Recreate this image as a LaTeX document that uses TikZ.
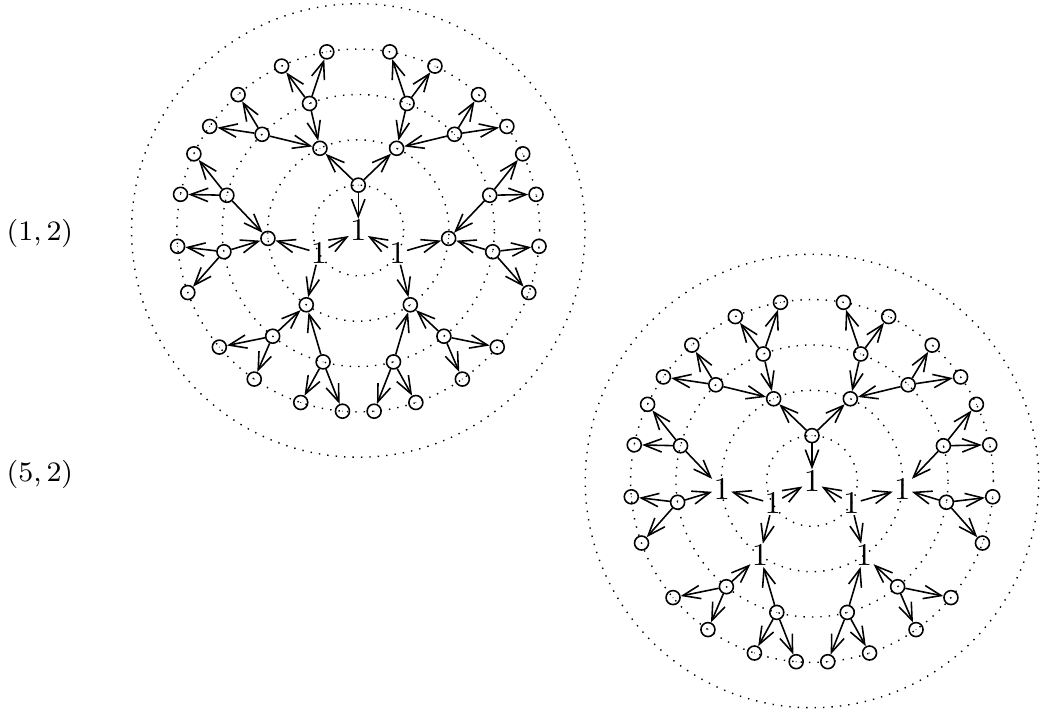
\documentclass[tikz,border=0pt]{standalone}
\usepackage{amsmath}
\usepackage{amssymb}
\usepackage{tikz}
\usetikzlibrary{arrows.meta,calc}

\begin{document}
\begin{tikzpicture}[
        dot/.style={circle,draw,inner sep=0pt,minimum size=1.4mm,line width=0.45pt,
            path picture={\fill (path picture bounding box.center) circle (0.15pt);}},
        one/.style={inner sep=0.2pt,font=\small},
        arc/.style={line width=0.45pt,-{Straight Barb[length=5pt,width=3.8pt]}}]
    \useasboundingbox (0,0) rectangle (10.41,7.13);

    \node[anchor=base west,inner sep=0pt,font=\fontsize{8.5}{10}\selectfont] (lbla) at (0.06,4.723) {\((1,2)\)};
    \node[anchor=base west,inner sep=0pt,font=\fontsize{8.5}{10}\selectfont] (lblb) at (0.06,2.313) {\((5,2)\)};

    % \q/\qc: look of the lower nodes on the second ring
    \foreach \p/\x/\y/\q/\qc in {a/3.583/4.825/dot/{}, b/8.12/2.32/one/{\(1\)}}{
        \coordinate (\p) at (\x,\y);
        \foreach \k in {1,...,5}{
            \draw[dotted] (\p) circle (\k*0.4535);
        }
        \node[one] (\p0) at (\p) {\(1\)};

        \foreach \b/\t/\s/\c/\u/\uc in {1/90/dot/{}/dot/{}, 2/210/one/{\(1\)}/\q/{\qc}, 3/330/one/{\(1\)}/\q/{\qc}}{
            \node[\s] (\p\b) at ($(\p)+(\t:0.4535)$) {\c};
            \draw[arc] (\p\b) -- (\p0);
            \foreach \m/\g in {m/-1,p/1}{
                \node[\u] (\p\b\m) at ($(\p)+(\t+\g*25:0.907)$) {\uc};
                \node[dot] (\p\b\m-i) at ($(\p)+(\t+\g*21:1.3605)$) {};
                \node[dot] (\p\b\m-o) at ($(\p)+(\t+\g*45:1.3605)$) {};
                \node[dot] (\p\b\m-ii) at ($(\p)+(\t+\g*10:1.814)$) {};
                \node[dot] (\p\b\m-io) at ($(\p)+(\t+\g*25:1.814)$) {};
                \node[dot] (\p\b\m-oi) at ($(\p)+(\t+\g*41.5:1.814)$) {};
                \node[dot] (\p\b\m-oo) at ($(\p)+(\t+\g*55:1.814)$) {};

                \draw[arc] (\p\b) -- (\p\b\m);
                \draw[arc] (\p\b\m-i) -- (\p\b\m);
                \draw[arc] (\p\b\m-o) -- (\p\b\m);
                \draw[arc] (\p\b\m-i) -- (\p\b\m-ii);
                \draw[arc] (\p\b\m-i) -- (\p\b\m-io);
                \draw[arc] (\p\b\m-o) -- (\p\b\m-oi);
                \draw[arc] (\p\b\m-o) -- (\p\b\m-oo);
            }
        }
    }
\end{tikzpicture}
\end{document}
